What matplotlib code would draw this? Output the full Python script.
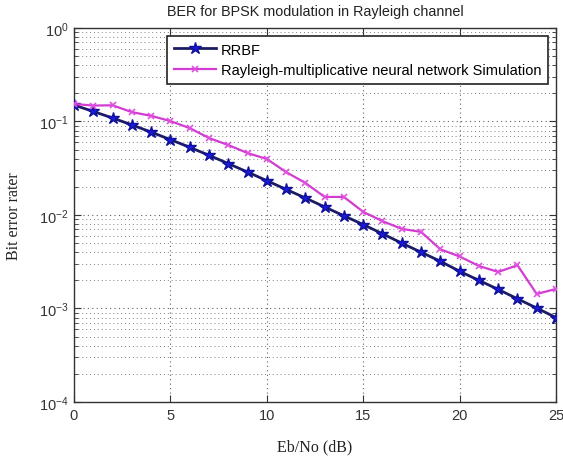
import numpy as np
import matplotlib
matplotlib.use("Agg")
import matplotlib.pyplot as plt
from matplotlib.ticker import LogLocator, NullFormatter, FixedLocator

ebno_db = list(range(0, 26))
rrbf = [0.150, 0.128, 0.109, 0.092, 0.077, 0.064, 0.053, 0.0435, 0.0355, 0.0288,
        0.0233, 0.0188, 0.0152, 0.0122, 0.0098, 0.0079, 0.0063, 0.0050, 0.0040,
        0.0032, 0.0025, 0.0020, 0.0016, 0.00127, 0.00101, 0.00080]
rayleigh_nn = [0.154, 0.148, 0.149, 0.126, 0.115, 0.101, 0.085, 0.0666, 0.056, 0.046,
               0.0397, 0.0288, 0.022, 0.0156, 0.0156, 0.0108, 0.0086, 0.0071, 0.0066,
               0.0043, 0.0036, 0.00285, 0.00246, 0.0029, 0.00143, 0.00162]
series_labels = ["RRBF", "Rayleigh-multiplicative neural network Simulation"]
title = "BER for BPSK modulation in Rayleigh channel"
xlabel = "Eb/No (dB)"
ylabel = "Bit error rater"
xticks = [0, 5, 10, 15, 20, 25]

plt.rcParams['font.family'] = ['Liberation Sans', 'DejaVu Sans']

fig = plt.figure(figsize=(5.63, 4.60), dpi=100)
fig.patch.set_facecolor('white')
ax = fig.add_axes([0.1314, 0.1239, 0.8562, 0.8131])

ax.semilogy(ebno_db, rrbf, color='#1c1c66', lw=2.0, marker='*', markersize=9,
            markerfacecolor='#1a1adc', markeredgecolor='#10109a', label=series_labels[0], zorder=3)
ax.semilogy(ebno_db, rayleigh_nn, color='#d23cd2', lw=1.6, marker='x', markersize=4.5,
            markeredgecolor='#e050e0', mew=1.2, label=series_labels[1], zorder=3)

ax.set_xlim(0, 25)
ax.set_ylim(1e-4, 1)
ax.xaxis.set_major_locator(FixedLocator(xticks))
ax.yaxis.set_major_locator(LogLocator(base=10, numticks=10))
ax.yaxis.set_minor_locator(LogLocator(base=10, subs=np.arange(2, 10), numticks=20))
ax.yaxis.set_minor_formatter(NullFormatter())

ax.grid(True, which='major', linestyle=(0, (1, 3)), color='#606060', lw=0.8)
ax.grid(True, which='minor', axis='y', linestyle=(0, (1, 3)), color='#808080', lw=0.7)

ax.tick_params(which='both', direction='in', top=True, right=True, labelsize=10.5, colors='#333333')
ax.tick_params(which='major', length=5, pad=4)
ax.tick_params(which='minor', length=3)
for s in ax.spines.values():
    s.set_color('#333333')
    s.set_linewidth(1.0)

ax.set_title(title, fontsize=10.4, color='#222222', pad=9)
ax.set_xlabel(xlabel, fontsize=11.5, family=['Liberation Serif'], labelpad=12, color='#222222')
ax.set_ylabel(ylabel, fontsize=11.5, family=['Liberation Serif'], labelpad=12, color='#222222')

leg = ax.legend(loc='upper right', fontsize=10.5, fancybox=False, framealpha=1,
                edgecolor='#222222', borderaxespad=0.55, handlelength=2.9,
                handletextpad=0.35, borderpad=0.45, labelspacing=0.45)
leg.get_frame().set_linewidth(1.2)

fig.savefig('out.png', dpi=100)
